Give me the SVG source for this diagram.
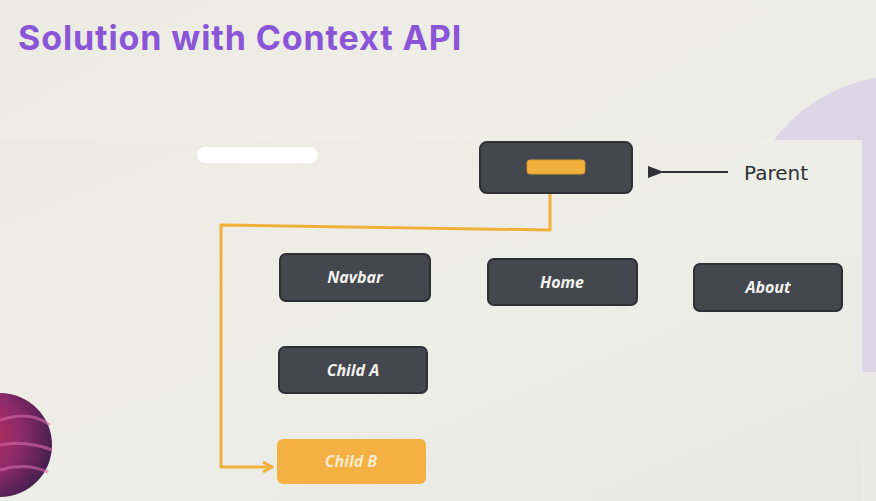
<svg xmlns="http://www.w3.org/2000/svg" width="876" height="501" viewBox="0 0 876 501">
<defs>
<style>
.title{font-family:"Inter","Liberation Sans",sans-serif;font-weight:700;font-size:34px;letter-spacing:0.9px;fill:#8a55d6}
.node rect.box{fill:#45474f;stroke:#2f3036;stroke-width:2}
.lbl{font-family:"Open Sans","DejaVu Sans",sans-serif;font-style:italic;font-weight:700;font-size:16px;fill:#f2f2ee;text-anchor:middle}
.conn{fill:none;stroke:#f0b03c;stroke-width:3;stroke-linejoin:round}
</style>
<linearGradient id="bg" x1="0" y1="0" x2="1" y2="1">
<stop offset="0" stop-color="#ecebe3"/>
<stop offset="0.5" stop-color="#eeeee8"/>
<stop offset="1" stop-color="#e7e8e4"/>
</linearGradient>
<radialGradient id="planet" cx="0.3" cy="0.4" r="0.7">
<stop offset="0" stop-color="#c0305a"/>
<stop offset="0.6" stop-color="#8a2a6a"/>
<stop offset="1" stop-color="#4a1f50"/>
</radialGradient>
<marker id="ah" markerWidth="12" markerHeight="12" refX="10" refY="6" orient="auto" markerUnits="userSpaceOnUse">
<path d="M1,1 L10,6 L1,11" fill="none" stroke="#f0b03c" stroke-width="3"/>
</marker>
<marker id="ahd" markerWidth="16" markerHeight="14" refX="2" refY="7" orient="auto" markerUnits="userSpaceOnUse">
<path d="M16,1 L0,7 L16,13 Z" fill="#2f3036"/>
</marker>
</defs>
<rect width="876" height="501" fill="url(#bg)"/>
<circle cx="905" cy="240" r="165" fill="#dcd6e6"/>
<rect x="0" y="140" width="862" height="361" fill="url(#bg)"/>
<rect x="862" y="372" width="14" height="129" fill="#e9eae5"/>
<circle cx="0" cy="445" r="52" fill="url(#planet)"/>
<path d="M0,420 Q30,410 50,425 M0,445 Q25,440 52,450 M0,470 Q25,462 48,472" stroke="#d86aa8" stroke-width="3" fill="none" opacity="0.6"/>
<text class="title" x="18" y="50">Solution with Context API</text>
<rect x="197" y="147" width="121" height="16" rx="8" fill="#ffffff"/>
<g id="connectors">
<path class="conn" d="M550,174 L550,230 L221,225 L221,467 L272,467" marker-end="url(#ah)"/>
<line x1="728" y1="172" x2="662" y2="172" stroke="#2f3036" stroke-width="1.8" marker-end="url(#ahd)"/>
</g>
<g id="parent" class="node">
<rect class="box" x="480" y="142" width="152" height="51" rx="7"/>
<rect x="527" y="160" width="58" height="14" rx="3" fill="#f0b03c" stroke="#d89a2a" stroke-width="1"/>
</g>
<g id="parent-label">
<text x="744" y="180" font-family="'DejaVu Sans',sans-serif" font-size="20" fill="#2f3036">Parent</text>
</g>
<g id="navbar" class="node">
<rect class="box" x="280" y="254" width="150" height="47" rx="6"/>
<text class="lbl" x="355" y="283">Navbar</text>
</g>
<g id="home" class="node">
<rect class="box" x="488" y="259" width="149" height="46" rx="6"/>
<text class="lbl" x="562" y="288">Home</text>
</g>
<g id="about" class="node">
<rect class="box" x="694" y="264" width="148" height="47" rx="6"/>
<text class="lbl" x="768" y="293">About</text>
</g>
<g id="childA" class="node">
<rect class="box" x="279" y="347" width="148" height="46" rx="6"/>
<text class="lbl" x="353" y="376">Child A</text>
</g>
<g id="childB" class="node">
<rect x="277" y="439" width="149" height="45" rx="6" fill="#f5b043"/>
<text class="lbl" x="351" y="467" style="fill:#fbe9c8">Child B</text>
</g>
</svg>
